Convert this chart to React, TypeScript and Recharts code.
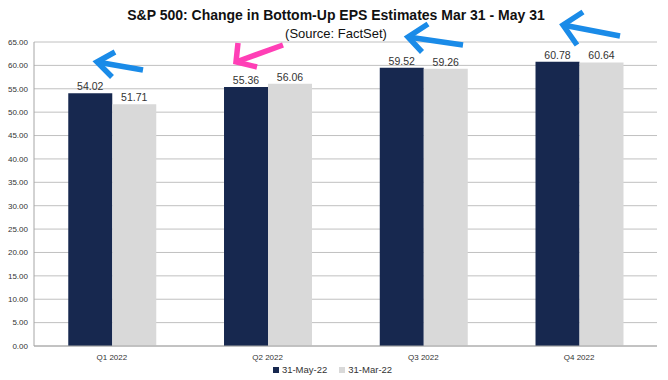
import React from 'react';
import { BarChart, Bar, XAxis, YAxis, CartesianGrid, Legend, LabelList } from 'recharts';

const quarters = ['Q1 2022', 'Q2 2022', 'Q3 2022', 'Q4 2022'];
const may31 = [54.02, 55.36, 59.52, 60.78];
const mar31 = [51.71, 56.06, 59.26, 60.64];
const yTicks = [0, 5, 10, 15, 20, 25, 30, 35, 40, 45, 50, 55, 60, 65];

const data = quarters.map((q, i) => ({ quarter: q, may: may31[i], mar: mar31[i] }));

const DARK = '#17284f';
const LIGHT = '#d9d9d9';
const FONT = 'Arial, "Liberation Sans", sans-serif';

const LegendBox = () => (
  <div style={{ display: 'flex', justifyContent: 'center', fontFamily: FONT, fontSize: 9.5, color: '#333', paddingLeft: 8, paddingTop: 6 }}>
    <span style={{ display: 'flex', alignItems: 'center', marginRight: 12 }}>
      <span style={{ width: 6, height: 6, background: DARK, marginRight: 3 }} />31-May-22
    </span>
    <span style={{ display: 'flex', alignItems: 'center' }}>
      <span style={{ width: 6, height: 6, background: LIGHT, marginRight: 3 }} />31-Mar-22
    </span>
  </div>
);

// hand-drawn annotation arrows from the reference
const arrows = [
  { c: '#1a8be8', head: [97, 62], tail: [143, 70], w1: [115, 52], w2: [112, 77] },
  { c: '#ff3fb6', head: [236, 62], tail: [283, 45], w1: [238, 43], w2: [257, 67] },
  { c: '#1a8be8', head: [408, 37], tail: [463, 45], w1: [428, 24], w2: [422, 52] },
  { c: '#1a8be8', head: [563, 25], tail: [620, 36], w1: [583, 12], w2: [577, 45] },
];

export default function App() {
  return (
    <div style={{ position: 'absolute', left: 0, top: 0, width: 668, height: 380, background: '#fff' }}>
      <BarChart
        width={668}
        height={380}
        data={data}
        margin={{ top: 42, right: 11, left: 0, bottom: 0 }}
        barCategoryGap="22%"
        barGap={0}
      >
        <CartesianGrid vertical={false} stroke="#c0c0c0" />
        <XAxis
          dataKey="quarter"
          height={12}
          tickLine={false}
          stroke="#a6a6a6"
          tick={{ fontSize: 8, fill: '#333', fontFamily: FONT }}
          tickMargin={2}
          interval={0}
        />
        <YAxis
          width={34}
          domain={[0, 65]}
          ticks={yTicks}
          interval={0}
          tickLine={false}
          tickSize={4}
          stroke="#a6a6a6"
          tickFormatter={(v: number) => v.toFixed(2)}
          tick={{ fontSize: 8, fill: '#333', fontFamily: FONT }}
        />
        <Legend verticalAlign="bottom" height={22} content={<LegendBox />} />
        <Bar dataKey="may" name="31-May-22" fill={DARK} isAnimationActive={false}>
          <LabelList dataKey="may" position="top" offset={3} formatter={(v: number) => v.toFixed(2)}
            style={{ fontSize: 10.5, fill: '#333', fontFamily: FONT }} />
        </Bar>
        <Bar dataKey="mar" name="31-Mar-22" fill={LIGHT} isAnimationActive={false}>
          <LabelList dataKey="mar" position="top" offset={3} formatter={(v: number) => v.toFixed(2)}
            style={{ fontSize: 10.5, fill: '#333', fontFamily: FONT }} />
        </Bar>
      </BarChart>
      <svg width={668} height={380} style={{ position: 'absolute', left: 0, top: 0, pointerEvents: 'none' }}>
        <text x={336} y={20} textAnchor="middle" fontFamily={FONT} fontWeight="bold" fontSize={14} fill="#111">
          S&amp;P 500: Change in Bottom-Up EPS Estimates Mar 31 - May 31
        </text>
        <text x={336} y={38} textAnchor="middle" fontFamily={FONT} fontSize={13} fill="#111">
          (Source: FactSet)
        </text>
        {arrows.map((a, i) => (
          <g key={i} stroke={a.c} strokeWidth={5.5} strokeLinecap="butt" strokeLinejoin="miter" fill="none">
            <line x1={a.tail[0]} y1={a.tail[1]} x2={a.head[0]} y2={a.head[1]} />
            <polyline points={`${a.w1[0]},${a.w1[1]} ${a.head[0]},${a.head[1]} ${a.w2[0]},${a.w2[1]}`} />
          </g>
        ))}
      </svg>
    </div>
  );
}
